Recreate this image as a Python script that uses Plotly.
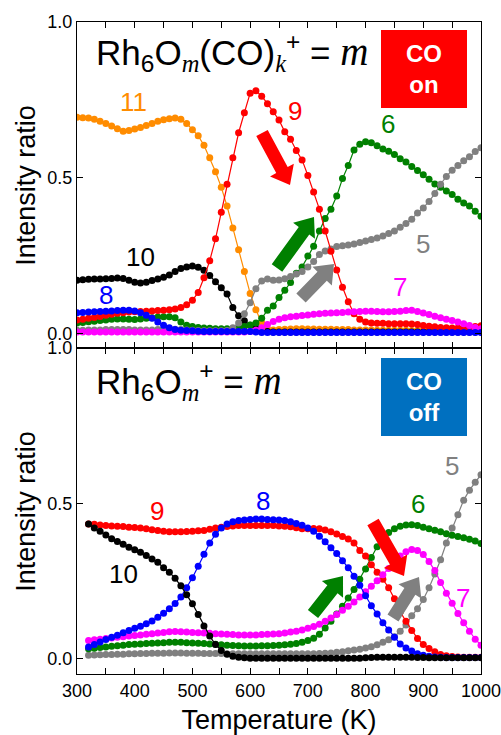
import math
import plotly.graph_objects as go

# ---------------- data ----------------
T_top = list(range(300, 1001, 10))
T_bot = list(range(320, 1001, 10))

top_m11 = [0.695,0.693,0.692,0.688,0.682,0.675,0.667,0.658,0.650,0.652,0.657,0.662,0.668,0.675,0.682,0.687,0.690,0.692,0.688,0.675,
           0.655,0.635,0.605,0.565,0.520,0.470,0.410,0.340,0.270,0.200,0.130,0.078,0.035,0.017,0.013,0.014,0.015,0.016,0.017,0.017,
           0.016,0.016,0.015,0.015,0.015,0.014,0.014,0.014,0.013,0.013,0.013,0.013,0.012,0.012,0.012,0.012,0.012,0.012,0.011,0.011,
           0.011,0.011,0.011,0.010,0.010,0.010,0.010,0.010,0.010,0.010,0.010]
top_m9 = [0.045,0.047,0.050,0.053,0.056,0.060,0.063,0.066,0.068,0.070,0.071,0.072,0.073,0.074,0.075,0.076,0.078,0.080,0.085,0.094,
          0.108,0.133,0.180,0.235,0.305,0.390,0.480,0.565,0.645,0.709,0.772,0.780,0.762,0.738,0.712,0.686,0.648,0.624,0.588,0.558,
          0.508,0.455,0.400,0.330,0.265,0.205,0.150,0.103,0.065,0.047,0.038,0.035,0.034,0.034,0.033,0.033,0.033,0.033,0.032,0.030,
          0.027,0.025,0.023,0.021,0.020,0.019,0.019,0.020,0.022,0.024,0.026]
top_m6 = [0.035,0.037,0.039,0.041,0.043,0.045,0.047,0.048,0.048,0.047,0.046,0.048,0.050,0.052,0.054,0.055,0.055,0.052,0.038,0.028,
          0.024,0.021,0.019,0.018,0.017,0.017,0.017,0.017,0.019,0.024,0.029,0.035,0.050,0.076,0.090,0.117,0.140,0.165,0.195,0.215,
          0.250,0.281,0.330,0.370,0.400,0.442,0.498,0.540,0.590,0.608,0.616,0.613,0.603,0.593,0.586,0.575,0.562,0.551,0.537,0.524,
          0.510,0.496,0.481,0.470,0.458,0.447,0.432,0.420,0.410,0.393,0.377]
top_m10 = [0.172,0.174,0.175,0.176,0.176,0.177,0.178,0.179,0.178,0.172,0.166,0.163,0.166,0.171,0.176,0.182,0.189,0.200,0.210,0.215,
           0.218,0.214,0.204,0.187,0.167,0.148,0.128,0.085,0.058,0.042,0.028,0.020,0.012,0.008,0.006,0.006,0.006,0.006,0.006,0.006,
           0.006,0.006,0.006,0.006,0.006,0.006,0.006,0.006,0.006,0.006,0.006,0.006,0.006,0.006,0.006,0.006,0.006,0.006,0.006,0.006,
           0.006,0.006,0.006,0.006,0.006,0.006,0.006,0.006,0.006,0.006,0.006]
top_m8 = [0.068,0.069,0.070,0.071,0.072,0.073,0.074,0.075,0.076,0.076,0.074,0.068,0.060,0.050,0.038,0.028,0.020,0.014,0.012,0.011,
          0.010,0.009,0.008,0.008,0.008,0.008,0.008,0.008,0.008,0.008,0.008,0.006,0.005,0.005,0.005,0.005,0.005,0.005,0.005,0.005,
          0.005,0.005,0.005,0.005,0.005,0.005,0.005,0.005,0.005,0.005,0.005,0.005,0.005,0.005,0.005,0.005,0.005,0.005,0.005,0.005,
          0.005,0.005,0.005,0.005,0.005,0.005,0.005,0.005,0.005,0.005,0.005]
top_m5 = [0.012,0.012,0.013,0.013,0.013,0.014,0.014,0.014,0.014,0.014,0.013,0.013,0.013,0.013,0.014,0.015,0.015,0.015,0.014,0.013,
          0.012,0.011,0.010,0.010,0.010,0.010,0.011,0.020,0.035,0.065,0.100,0.145,0.170,0.176,0.172,0.173,0.177,0.184,0.192,0.200,
          0.215,0.232,0.255,0.266,0.272,0.280,0.283,0.285,0.288,0.293,0.298,0.303,0.308,0.314,0.322,0.330,0.342,0.354,0.368,0.388,
          0.404,0.425,0.450,0.480,0.505,0.525,0.540,0.555,0.568,0.585,0.597]
top_m7 = [0.006,0.006,0.006,0.006,0.006,0.006,0.006,0.006,0.006,0.006,0.006,0.006,0.006,0.006,0.006,0.006,0.006,0.006,0.006,0.006,
          0.006,0.006,0.006,0.006,0.006,0.006,0.006,0.006,0.006,0.006,0.008,0.012,0.020,0.030,0.040,0.047,0.052,0.055,0.057,0.059,
          0.061,0.063,0.065,0.066,0.067,0.068,0.069,0.070,0.071,0.072,0.073,0.073,0.072,0.071,0.071,0.072,0.073,0.075,0.076,0.072,
          0.067,0.062,0.057,0.052,0.047,0.043,0.038,0.033,0.027,0.021,0.017]

bot_m9 = [0.433,0.432,0.430,0.428,0.427,0.426,0.425,0.423,0.422,0.420,0.418,0.415,0.412,0.410,0.408,0.408,0.408,0.409,0.410,0.411,
          0.412,0.416,0.420,0.423,0.425,0.427,0.428,0.428,0.428,0.428,0.428,0.428,0.428,0.427,0.426,0.424,0.421,0.418,0.418,0.419,
          0.418,0.414,0.408,0.401,0.393,0.385,0.372,0.348,0.330,0.302,0.278,0.255,0.228,0.192,0.150,0.120,0.090,0.064,0.045,0.032,
          0.022,0.013,0.009,0.006,0.005,0.004,0.004,0.004,0.004]
bot_m8 = [0.037,0.045,0.053,0.061,0.068,0.075,0.083,0.090,0.097,0.104,0.112,0.121,0.133,0.146,0.160,0.177,0.198,0.228,0.260,0.297,
          0.336,0.372,0.400,0.420,0.433,0.440,0.444,0.446,0.448,0.449,0.449,0.448,0.447,0.446,0.444,0.440,0.435,0.429,0.420,0.410,
          0.394,0.376,0.357,0.338,0.315,0.292,0.265,0.236,0.202,0.170,0.143,0.115,0.092,0.068,0.047,0.034,0.024,0.015,0.010,0.007,
          0.005,0.004,0.003,0.003,0.003,0.003,0.003,0.003,0.003]
bot_m10 = [0.433,0.420,0.410,0.398,0.386,0.377,0.368,0.358,0.350,0.342,0.332,0.320,0.310,0.292,0.278,0.258,0.234,0.205,0.176,0.142,
           0.105,0.072,0.045,0.026,0.014,0.007,0.004,0.002,0.001,0.001,0.001,0.001,0.001,0.001,0.001,0.001,0.001,0.001,0.001,0.001,
           0.001,0.001,0.001,0.001,0.001,0.001,0.001,0.001,0.002,0.003,0.004,0.004,0.004,0.004,0.004,0.004,0.004,0.003,0.003,0.002,
           0.002,0.002,0.002,0.002,0.002,0.002,0.002,0.002,0.002]
bot_m7 = [0.058,0.060,0.062,0.064,0.066,0.068,0.070,0.072,0.074,0.076,0.078,0.080,0.082,0.084,0.086,0.087,0.086,0.085,0.084,0.083,
          0.082,0.081,0.080,0.079,0.078,0.077,0.076,0.076,0.076,0.076,0.077,0.078,0.079,0.080,0.082,0.085,0.088,0.092,0.097,0.103,
          0.110,0.120,0.130,0.142,0.155,0.168,0.182,0.198,0.215,0.233,0.250,0.270,0.290,0.310,0.330,0.344,0.351,0.348,0.335,0.312,
          0.283,0.245,0.210,0.178,0.145,0.115,0.088,0.062,0.043]
bot_m6 = [0.031,0.033,0.035,0.037,0.039,0.041,0.043,0.045,0.046,0.047,0.048,0.049,0.050,0.051,0.052,0.052,0.052,0.051,0.050,0.049,
          0.048,0.047,0.046,0.044,0.043,0.042,0.041,0.040,0.040,0.040,0.041,0.041,0.042,0.043,0.044,0.046,0.048,0.052,0.058,0.065,
          0.078,0.098,0.120,0.143,0.168,0.195,0.222,0.255,0.288,0.325,0.360,0.388,0.406,0.418,0.426,0.430,0.431,0.428,0.423,0.418,
          0.413,0.408,0.402,0.397,0.393,0.389,0.384,0.378,0.370]
bot_m5 = [0.010,0.011,0.012,0.013,0.013,0.014,0.014,0.015,0.015,0.016,0.016,0.017,0.017,0.017,0.018,0.018,0.018,0.017,0.017,0.017,
          0.016,0.016,0.016,0.016,0.015,0.015,0.015,0.015,0.015,0.015,0.015,0.015,0.015,0.015,0.015,0.015,0.015,0.015,0.015,0.015,
          0.016,0.017,0.018,0.020,0.022,0.025,0.027,0.030,0.034,0.038,0.044,0.052,0.060,0.070,0.088,0.108,0.138,0.160,0.190,0.228,
          0.272,0.318,0.372,0.420,0.463,0.510,0.542,0.568,0.592]

C = dict(orange="#FF8C00", red="#FF0000", green="#008000", black="#000000",
         blue="#0000FF", gray="#808080", magenta="#FF00FF")

top_series = [(top_m11, "orange"), (top_m10, "black"), (top_m6, "green"), (top_m5, "gray"),
              (top_m9, "red"), (top_m7, "magenta"), (top_m8, "blue")]
bot_series = [(bot_m5, "gray"), (bot_m6, "green"), (bot_m9, "red"), (bot_m7, "magenta"),
              (bot_m8, "blue"), (bot_m10, "black")]

FONT = "Arial, Liberation Sans, sans-serif"
SERIF = "Liberation Serif"

# layout geometry (pixels)
W, H = 501, 735
ML, MR, MT, MB = 77, 20, 22, 61
PW, PH = W - ML - MR, H - MT - MB


def px2paper(px, py):
    return (px - ML) / PW, (H - MB - py) / PH


fig = go.Figure()
for vals, c in top_series:
    fig.add_trace(go.Scatter(x=T_top, y=vals, mode="lines+markers", xaxis="x", yaxis="y",
                             line=dict(color=C[c], width=1.2), marker=dict(color=C[c], size=7),
                             showlegend=False, hoverinfo="skip"))
for vals, c in bot_series:
    fig.add_trace(go.Scatter(x=T_bot, y=vals, mode="lines+markers", xaxis="x2", yaxis="y2",
                             line=dict(color=C[c], width=1.2), marker=dict(color=C[c], size=7),
                             showlegend=False, hoverinfo="skip"))

xmajor = [300, 400, 500, 600, 700, 800, 900, 1000]
common_x = dict(range=[300, 1000], tickvals=xmajor, ticks="inside", ticklen=6, tickwidth=1,
                minor=dict(tick0=300, dtick=50, ticks="inside", ticklen=6, tickwidth=1, tickcolor="black"),
                showline=True, linecolor="black", linewidth=1, mirror="allticks",
                showgrid=False, zeroline=False, tickcolor="black", ticklabeloverflow="allow",
                automargin=False, tickfont=dict(family=FONT, size=18, color="black"))
common_y = dict(tickvals=[0, 0.5, 1.0], ticktext=["0.0", "0.5", "1.0"], ticks="inside", ticklen=6,
                tickwidth=1, showline=True, linecolor="black", linewidth=1, mirror="allticks",
                showgrid=False, zeroline=False, tickcolor="black", automargin=False,
                tickfont=dict(family=FONT, size=18, color="black"))

fig.update_layout(
    width=W, height=H, autosize=False,
    margin=dict(l=ML, r=MR, t=MT, b=MB, autoexpand=False),
    paper_bgcolor="white", plot_bgcolor="white",
    xaxis=dict(common_x, anchor="y", showticklabels=False),
    yaxis=dict(common_y, domain=[0.5, 1.0], range=[-0.045, 1.0], anchor="x"),
    xaxis2=dict(common_x, anchor="y2", matches="x",
                title=dict(text="Temperature (K)", font=dict(family=FONT, size=27, color="black"), standoff=10)),
    yaxis2=dict(common_y, domain=[0, 0.5], range=[-0.05, 1.0], anchor="x2"),
)

ann = []
for yc in [0.75, 0.25]:
    ann.append(dict(text="Intensity ratio", xref="paper", yref="paper", x=-0.127, y=yc,
                    textangle=-90, showarrow=False, xanchor="center", yanchor="middle",
                    font=dict(family=FONT, size=27, color="black")))


def it(s, size=None):
    st = "font-family:%s;font-style:italic" % SERIF
    if size:
        st += ";font-size:%dpx" % size
    return '<span style="%s">%s</span>' % (st, s)


tx, ty = px2paper(94, 53)
ann.append(dict(text="Rh<sub>6</sub>O<sub>" + it("m") + "</sub>(CO)<sub>" + it("k") + "</sub><sup>+</sup> = " + it("m", 39),
                xref="paper", yref="paper", x=tx, y=ty,
                xanchor="left", yanchor="middle", showarrow=False,
                font=dict(family=FONT, size=35, color="black")))
tx, ty = px2paper(94, 381)
ann.append(dict(text="Rh<sub>6</sub>O<sub>" + it("m") + "</sub><sup>+</sup> = " + it("m", 39),
                xref="paper", yref="paper", x=tx, y=ty,
                xanchor="left", yanchor="middle", showarrow=False,
                font=dict(family=FONT, size=35, color="black")))

shapes = []
for (y0p, y1p, col, txt) in [(30, 108, "#FF0000", "CO<br>on"), (358, 436, "#0070C0", "CO<br>off")]:
    x0, ya = px2paper(381, y1p)
    x1, yb = px2paper(467, y0p)
    shapes.append(dict(type="rect", xref="paper", yref="paper", x0=x0, x1=x1, y0=ya, y1=yb,
                       fillcolor=col, line=dict(width=0), layer="above"))
    cx, cy = px2paper(424, (y0p + y1p) / 2)
    ann.append(dict(text="<b>" + txt + "</b>", xref="paper", yref="paper", x=cx, y=cy,
                    xanchor="center", yanchor="middle", showarrow=False,
                    font=dict(family=FONT, size=24, color="white")))

labels = [("11", "orange", 398, 0.742, 1), ("9", "red", 678, 0.716, 1), ("6", "green", 839, 0.674, 1),
          ("10", "black", 410, 0.248, 1), ("8", "blue", 351, 0.126, 1), ("5", "gray", 900, 0.287, 1),
          ("7", "magenta", 860, 0.152, 1),
          ("9", "red", 439, 0.476, 2), ("8", "blue", 623, 0.508, 2), ("6", "green", 891, 0.498, 2),
          ("5", "gray", 950, 0.621, 2), ("10", "black", 380, 0.273, 2), ("7", "magenta", 969, 0.196, 2)]
for t, c, xv, yv, p in labels:
    ann.append(dict(text=t, x=xv, y=yv, xref="x" if p == 1 else "x2", yref="y" if p == 1 else "y2",
                    showarrow=False, font=dict(family=FONT, size=26, color=C[c])))

# block arrows: (colour, tail px, tip px)
arrows = [("red", (262, 133), (290, 185)), ("green", (277, 268), (314, 217)), ("gray", (301, 298), (334, 264)),
          ("red", (373, 522), (404, 576)), ("green", (313, 614), (343, 576)), ("gray", (393, 618), (419, 577))]
SW, HW, HL = 6.5, 13.5, 17
for c, (x0, y0), (x1, y1) in arrows:
    L = math.hypot(x1 - x0, y1 - y0)
    dx, dy = (x1 - x0) / L, (y1 - y0) / L
    nx, ny = -dy, dx
    bx, by = x1 - dx * HL, y1 - dy * HL
    pts = [(x0 + nx * SW, y0 + ny * SW), (bx + nx * SW, by + ny * SW), (bx + nx * HW, by + ny * HW),
           (x1, y1), (bx - nx * HW, by - ny * HW), (bx - nx * SW, by - ny * SW), (x0 - nx * SW, y0 - ny * SW)]
    pp = [px2paper(a, b) for a, b in pts]
    path = "M " + " L ".join("%.5f %.5f" % p for p in pp) + " Z"
    shapes.append(dict(type="path", xref="paper", yref="paper", path=path,
                       fillcolor=C[c], line=dict(width=0), layer="above"))

fig.update_layout(annotations=ann, shapes=shapes)
fig.write_html("out.html")
